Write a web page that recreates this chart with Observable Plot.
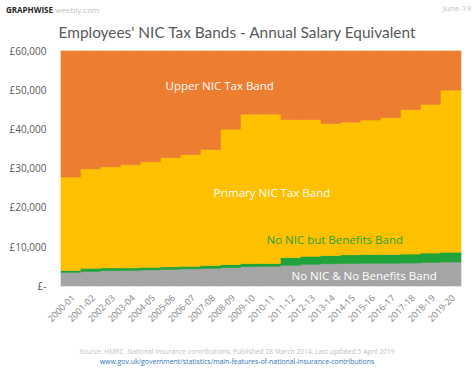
<!DOCTYPE html>
<html>
<head>
<meta charset="utf-8">
<script src="https://cdn.jsdelivr.net/npm/d3@7"></script>
<script src="https://cdn.jsdelivr.net/npm/@observablehq/plot@0.6"></script>
<style>
  html, body { margin: 0; padding: 0; background: #fff; }
  #wrap { position: relative; width: 474px; height: 369px; overflow: hidden; font-family: "Open Sans", Lato, sans-serif; }
  #brand { position: absolute; left: 6px; top: 4px; font-size: 8px; color: #262626; }
  #brand b { font-weight: 700; }
  #brand span { color: #BFBFBF; }
  #date { position: absolute; right: 3px; top: 2px; font-size: 8px; color: #BFBFBF; }
  #title { position: absolute; left: 0; width: 474px; top: 23px; text-align: center; font-family: Lato, "Open Sans", sans-serif; font-size: 15.4px; color: #595959; }
  #chart { position: absolute; left: 0; top: 0; }
  #src { position: absolute; left: 0; width: 474px; top: 347px; text-align: center; font-size: 6.7px; color: #BFBFBF; }
  #url { position: absolute; left: 0; width: 474px; top: 357px; text-align: center; font-size: 6.9px; color: #2E75B6; }
</style>
</head>
<body>
<div id="wrap">
  <div id="chart"></div>
  <div id="brand"><b>GRAPHWISE</b><span>.weebly.com</span></div>
  <div id="date">June-19</div>
  <div id="title">Employees' NIC Tax Bands - Annual Salary Equivalent</div>
  <div id="src">Source: HMRC. National Insurance contributions. Published 28 March 2014. Last updated 5 April 2019</div>
  <div id="url">www.gov.uk/government/statistics/main-features-of-national-insurance-contributions</div>
</div>
<script>
const years = ["2000-01","2001-02","2002-03","2003-04","2004-05","2005-06","2006-07","2007-08","2008-09","2009-10",
               "2010-11","2011-12","2012-13","2013-14","2014-15","2015-16","2016-17","2017-18","2018-19","2019-20"];
// Lower earnings limit (annual)
const lowerLimit = [3484,3744,3900,4004,4108,4264,4368,4524,4680,4940,5044,5304,5564,5668,5772,5824,5824,5876,6032,6136];
// Primary threshold (annual)
const primaryThreshold = [3952,4524,4628,4615,4745,4895,5035,5225,5435,5715,5715,7225,7605,7755,7956,8060,8060,8164,8424,8632];
// Upper earnings limit (annual)
const upperLimit = [27820,29900,30420,30940,31720,32760,33540,34840,40040,43888,43888,42484,42484,41444,41860,42380,43004,45032,46384,50024];
const chartTop = 60000;
const bandNames = ["No NIC & No Benefits Band","No NIC but Benefits Band","Primary NIC Tax Band","Upper NIC Tax Band"];
const bandColors = ["#A5A5A5","#1FA33A","#FFC000","#ED7D31"];
const yTicks = [0,10000,20000,30000,40000,50000,60000];

const rows = [];
years.forEach((yr, i) => {
  const edges = [0, lowerLimit[i], primaryThreshold[i], upperLimit[i], chartTop];
  for (let b = 0; b < 4; b++) rows.push({year: yr, band: bandNames[b], y1: edges[b], y2: edges[b+1]});
});

const labels = [
  {text: "Upper NIC Tax Band", year: "2005-06", y: 51000, color: "#FFFFFF", dx: -6},
  {text: "Primary NIC Tax Band", year: "2007-08", y: 23700, color: "#FFFFFF", dx: 2},
  {text: "No NIC but Benefits Band", year: "2010-11", y: 11750, color: "#1FA33A", dx: -5},
  {text: "No NIC & No Benefits Band", year: "2011-12", y: 2550, color: "#FFFFFF", dx: 0}
];

const fmt = v => v === 0 ? "£-" : "£" + d3.format(",")(v);

const plot = Plot.plot({
  width: 474,
  height: 332,
  marginTop: 51,
  marginBottom: 46,
  marginLeft: 58,
  marginRight: 11,
  style: {fontFamily: "'Open Sans', Lato, sans-serif", fontSize: "10px", color: "#595959", background: "transparent"},
  x: {domain: years, padding: 0, label: null},
  y: {domain: [0, 60000], ticks: yTicks, tickFormat: fmt, label: null, tickSize: 0, tickPadding: 12},
  color: {domain: bandNames, range: bandColors},
  marks: [
    Plot.barY(rows, {x: "year", y1: "y1", y2: "y2", fill: "band", stroke: "band", strokeWidth: 0.6, inset: 0}),
    ...labels.map(l => Plot.text([l], {x: "year", y: "y", text: "text", fill: l.color, textAnchor: "start", dx: l.dx, fontSize: 11.5})),
    Plot.axisX({tickSize: 0, tickRotate: -45, tickPadding: 10, dx: 2, fontSize: 9, fill: "#7F7F7F"})
  ]
});
document.getElementById("chart").appendChild(plot);
</script>
</body>
</html>
